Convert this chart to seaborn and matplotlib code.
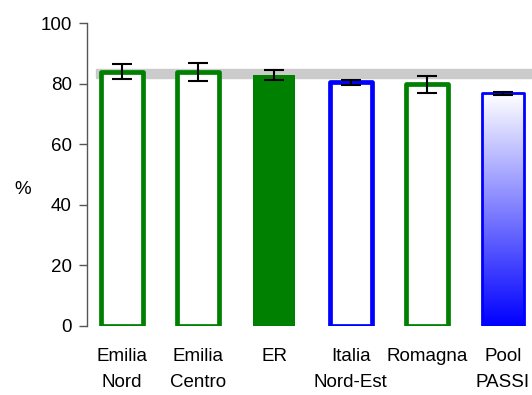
import matplotlib

matplotlib.use("Agg")

import matplotlib.pyplot as plt
import numpy as np
import pandas as pd
import seaborn as sns

labels = ["Emilia\nNord", "Emilia\nCentro", "ER", "Italia\nNord-Est", "Romagna", "Pool\nPASSI"]
values = [83.8, 83.8, 82.8, 80.6, 80.0, 76.9]
err_low = [81.4, 81.0, 81.2, 79.4, 77.0, 76.4]
err_high = [86.4, 86.8, 84.4, 81.2, 82.6, 77.2]
edge_colors = ["#008000", "#008000", "#008000", "#0000ff", "#008000", "#0000ff"]
band_low, band_high = 81.8, 84.8

sns.set_style("white")
plt.rcParams["font.family"] = ["Liberation Sans", "DejaVu Sans"]

df = pd.DataFrame({"area": labels, "pct": values})

fig = plt.figure(figsize=(5.32, 3.95), dpi=100)
ax = fig.add_axes([0.1635, 0.1747, 0.8365, 0.767])

sns.barplot(data=df, x="area", y="pct", order=labels, width=0.55, ax=ax, zorder=2)
bars = list(ax.patches)

# reference band behind the bars
ax.axhspan(band_low, band_high, xmin=0.02, xmax=1.0, color="#cbcbcb", zorder=0)

for i, patch in enumerate(bars):
    patch.set_edgecolor(edge_colors[i])
    if labels[i] == "ER":
        patch.set_facecolor("#008000")
        patch.set_linewidth(0)
    elif labels[i].startswith("Pool"):
        patch.set_facecolor("none")
        patch.set_linewidth(2)
        x0, y0 = patch.get_x(), patch.get_y()
        grad = np.linspace(0, 1, 256).reshape(-1, 1)
        cmap = matplotlib.colors.LinearSegmentedColormap.from_list("wb", ["#ffffff", "#0000ff"])
        im = ax.imshow(grad, cmap=cmap, aspect="auto", origin="upper",
                       extent=[x0, x0 + patch.get_width(), y0, y0 + patch.get_height()],
                       zorder=1.9)
        im.set_clip_path(patch)
    else:
        patch.set_facecolor("white")
        patch.set_linewidth(3.4)
    patch.set_joinstyle("round")

pos = np.arange(len(labels))
vals = np.array(values)
yerr = [vals - np.array(err_low), np.array(err_high) - vals]
ax.errorbar(pos, vals, yerr=yerr, fmt="none", ecolor="black", elinewidth=1.5,
            capsize=7, capthick=1.5, zorder=3)

ax.set_xlim(-0.46, 5.38)
ax.set_ylim(0, 100)
ax.set_yticks([0, 20, 40, 60, 80, 100])
ax.tick_params(axis="y", labelsize=13.5, labelcolor="black", length=6, width=1,
               color="#555555", direction="out", left=True, pad=5)
ax.tick_params(axis="x", labelsize=13.5, labelcolor="black", length=0, pad=16)
for t in ax.get_xticklabels():
    t.set_linespacing(1.65)
ax.set_xlabel("")
ax.set_ylabel("%", fontsize=13.5, color="black", rotation=0, va="center")
ax.yaxis.set_label_coords(-0.145, 0.45)

for side in ["top", "right", "bottom"]:
    ax.spines[side].set_visible(False)
ax.spines["left"].set_color("#555555")
ax.spines["left"].set_linewidth(1)

fig.savefig("out.png", dpi=100)
